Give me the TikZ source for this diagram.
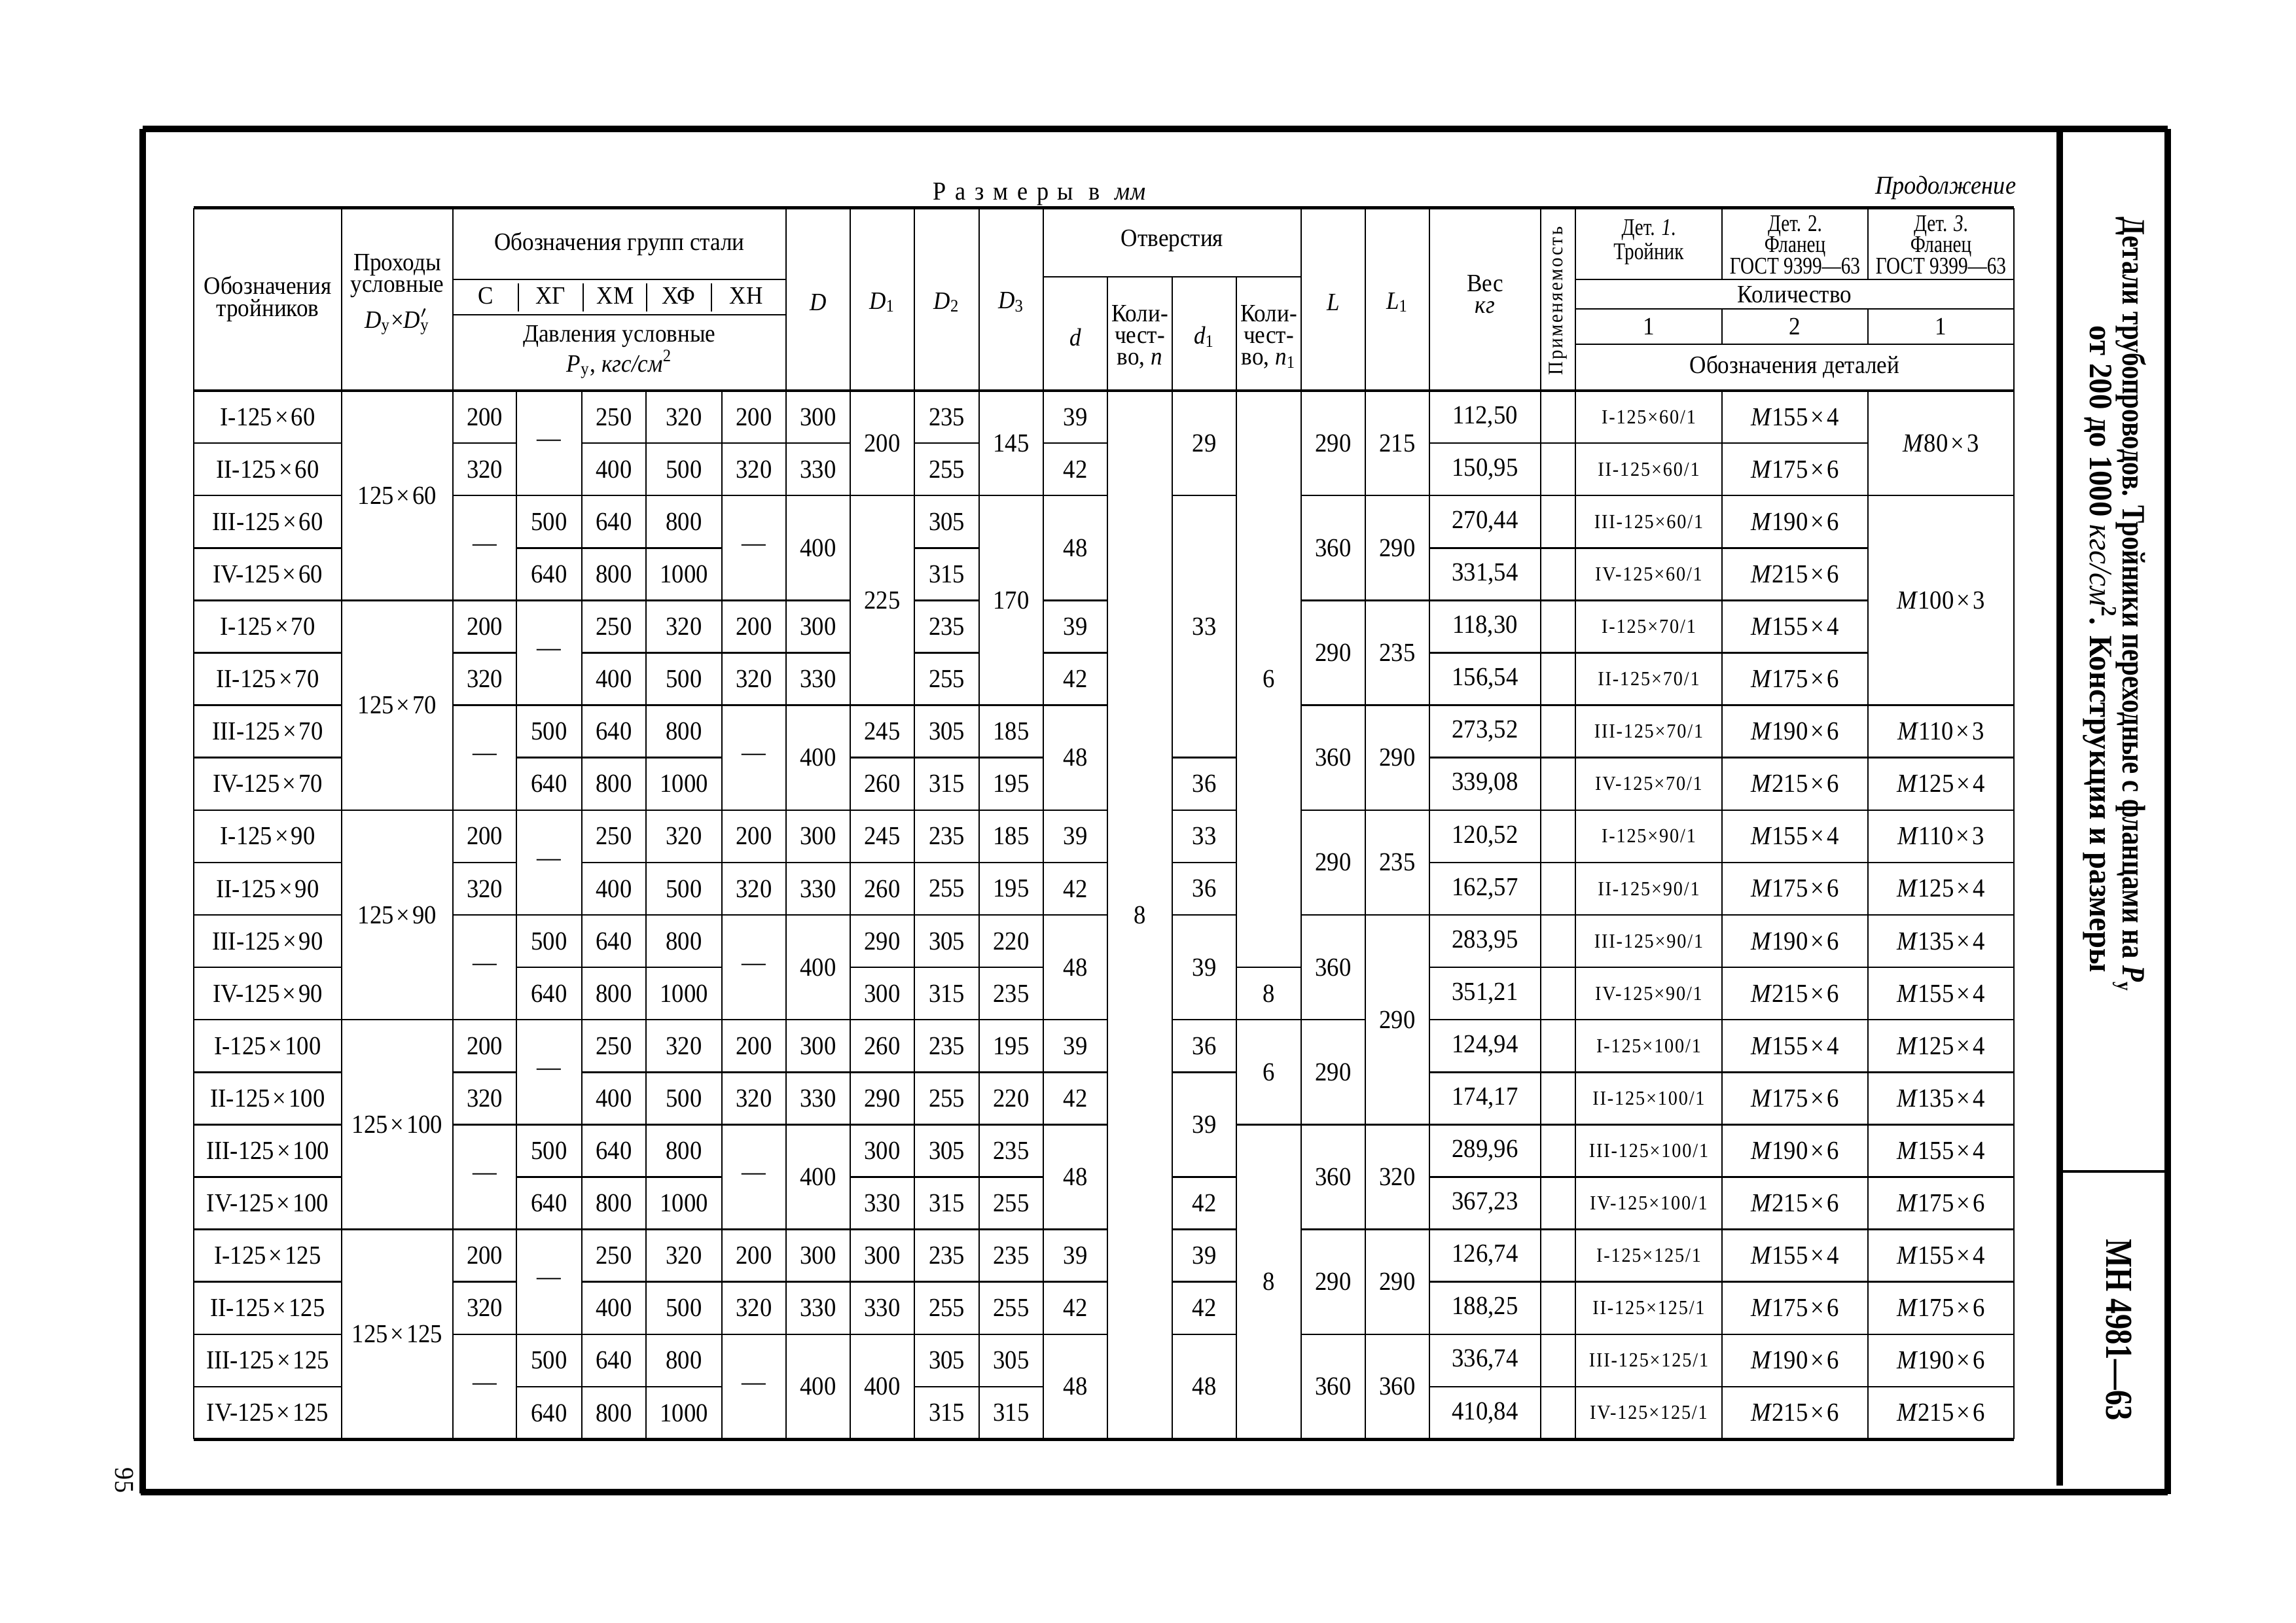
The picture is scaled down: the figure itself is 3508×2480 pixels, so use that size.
\documentclass[tikz,border=0pt]{standalone}
\usepackage{fontspec}
\setmainfont{Liberation Serif}[FakeStretch=0.92]
\newfontfamily\tfa{Liberation Serif}[FakeStretch=0.82]
\newfontfamily\tfb{Liberation Serif}[FakeStretch=0.94]
\newfontfamily\tfm{Liberation Serif}[FakeStretch=0.8]
\newfontfamily\hdc{Liberation Serif}[FakeStretch=0.8]
\newcounter{cn}
\newcommand\tcell[6][]{\stepcounter{cn}\edef\tmpnode{\noexpand\node[cellt,\unexpanded{#1}] (c\number\value{cn})}\tmpnode at ({((#2)+(#3))/2},{597+80.1*((#4)+(#5))/2}) {#6};}
\newcommand\hseg[3]{\draw[rule] (#1,{597+80.1*(#3)}) -- (#2,{597+80.1*(#3)});}
\newcommand\X{\kern0.1em×\kern0.1em}
\def\xA{296}\def\xB{522}\def\xC{692}\def\xD{789}\def\xE{889}\def\xF{987}
\def\xG{1103}\def\xH{1201}\def\xI{1299}\def\xJ{1397}\def\xK{1496}\def\xL{1594}
\def\xM{1692}\def\xN{1791}\def\xO{1889}\def\xP{1988}\def\xQ{2086}\def\xR{2184}
\def\xS{2354}\def\xT{2407}\def\xU{2631}\def\xV{2854}\def\xW{3077}
\begin{document}
\begin{tikzpicture}[x=0.084667mm,y=-0.084667mm,
  rule/.style={line width=0.6pt},
  heavy/.style={line width=1.2pt},
  framel/.style={line width=2.2pt},
  cellt/.style={inner sep=0pt,font=\fontsize{9.6}{10}\selectfont},
  small/.style={font=\fontsize{7.4}{8}\selectfont\addfontfeature{LetterSpace=6}},
  hd/.style={inner sep=0pt,align=center,font=\fontsize{9.2}{8}\selectfont},
  hdn/.style={inner sep=0pt,align=center,font=\hdc\fontsize{8.8}{7.8}\selectfont}]
\useasboundingbox (0,0) rectangle (3508,2480);
\fill[white] (0,0) rectangle (3508,2480);
% ---------- page frame ----------
\draw[framel] (218,197) -- (3312,197);
\draw[framel] (218,197) -- (218,2282);
\draw[framel] (215,2280) -- (3312,2280);
\draw[framel] (3147,197) -- (3147,2270);
\draw[framel] (3312,197) -- (3312,2283);
\draw[line width=1pt] (3147,1790) -- (3312,1790);
\node[rotate=-90,anchor=base west,inner sep=0pt,font=\tfa\bfseries\fontsize{12}{14}\selectfont] (title1) at (3243,331) {Детали трубопроводов. Тройники переходные с фланцами на \textit{P}\textsubscript{у}};
\node[rotate=-90,anchor=base west,inner sep=0pt,font=\tfb\bfseries\fontsize{12}{14}\selectfont] (title2) at (3193,497) {от 200 до 1000 {\mdseries\itshape кгс/см}\textsuperscript{2}. Конструкция и размеры};
\node[rotate=-90,anchor=base,inner sep=0pt,font=\tfm\bfseries\fontsize{14}{16}\selectfont] (mn) at (3218,2032) {МН 4981—63};
\node[rotate=-90,inner sep=0pt,font=\fontsize{10}{12}\selectfont] (pg) at (190,2262) {95};
% ---------- texts above table ----------
\node[anchor=west,inner sep=0pt,font=\fontsize{9.5}{10}\selectfont] (sizes) at (1425,297) {{\addfontfeature{LetterSpace=35}Размеры в}\hspace{2mm}\textit{мм}};
\node[anchor=east,inner sep=0pt,font=\fontsize{9.5}{10}\selectfont] (cont) at (3081,287) {\textit{Продолжение}};
% ---------- header rules ----------
\draw[heavy] (\xA,318) -- (\xW,318);
\draw[heavy] (\xA,597) -- (\xW,597);
\draw[heavy] (\xA,2199) -- (\xW,2199);
\foreach \x in {\xA,\xB,\xC,\xH,\xI,\xJ,\xK,\xL,\xP,\xQ,\xR,\xS,\xT,\xW}{\draw[rule] (\x,318) -- (\x,597);}
\foreach \x in {\xM,\xN,\xO}{\draw[rule] (\x,423) -- (\x,597);}
\foreach \x in {\xU,\xV}{\draw[rule] (\x,318) -- (\x,427);\draw[rule] (\x,472) -- (\x,526);}
\foreach \x in {792,891,988,1087}{\draw[rule] (\x,433) -- (\x,476);}
\draw[rule] (\xC,427) -- (\xH,427);
\draw[rule] (\xC,481) -- (\xH,481);
\draw[rule] (\xL,423) -- (\xP,423);
\draw[rule] (\xT,427) -- (\xW,427);
\draw[rule] (\xT,472) -- (\xW,472);
\draw[rule] (\xT,526) -- (\xW,526);
% ---------- header texts ----------
\node[hd] (hName) at ({(\xA+\xB)/2},457) {Обозначения\\тройников};
\node[hd] (hPass) at ({(\xB+\xC)/2},450) {Проходы\\условные\\[3pt]\textit{D}\textsubscript{у}×\textit{D}\rlap{\textsuperscript{$\prime$}}\textsubscript{у}};
\node[hd] (hGroups) at ({(\xC+\xH)/2},373) {Обозначения групп стали};
\node[hd] (gC) at (742,452) {С};
\node[hd] (gXG) at (841,452) {ХГ};
\node[hd] (gXM) at (940,452) {ХМ};
\node[hd] (gXF) at (1037,452) {ХФ};
\node[hd] (gXN) at (1140,452) {ХН};
\node[hd] (hPress) at ({(\xC+\xH)/2},538) {Давления условные\\\textit{P}\textsubscript{у}, \textit{кгс/см}\textsuperscript{2}};
\node[hd] (hD) at ({(\xH+\xI)/2},462) {\textit{D}};
\node[hd] (hD1) at ({(\xI+\xJ)/2},462) {\textit{D}\textsubscript{1}};
\node[hd] (hD2) at ({(\xJ+\xK)/2},462) {\textit{D}\textsubscript{2}};
\node[hd] (hD3) at ({(\xK+\xL)/2},462) {\textit{D}\textsubscript{3}};
\node[hd] (hHoles) at ({(\xL+\xP)/2},368) {Отверстия};
\node[hd] (hd) at ({(\xL+\xM)/2},515) {\textit{d}};
\node[hd] (hn) at ({(\xM+\xN)/2},515) {Коли-\\чест-\\во, \textit{n}};
\node[hd] (hd1) at ({(\xN+\xO)/2},515) {\textit{d}\textsubscript{1}};
\node[hd] (hn1) at ({(\xO+\xP)/2},515) {Коли-\\чест-\\во, \textit{n}\textsubscript{1}};
\node[hd] (hL) at ({(\xP+\xQ)/2},462) {\textit{L}};
\node[hd] (hL1) at ({(\xQ+\xR)/2},462) {\textit{L}\textsubscript{1}};
\node[hd] (hW) at ({(\xR+\xS)/2},450) {Вес\\\textit{кг}};
\node[hd,rotate=90,font=\fontsize{7.6}{8}\selectfont\addfontfeature{LetterSpace=8}] (hUse) at ({(\xS+\xT)/2},460) {Применяемость};
\node[hdn] (hDet1) at ({(\xT+\xU)/2},370) {Дет. \textit{1}.\\Тройник};
\node[hdn] (hDet2) at ({(\xU+\xV)/2},374) {Дет. 2.\\Фланец\\ГОСТ 9399—63};
\node[hdn] (hDet3) at ({(\xV+\xW)/2},374) {Дет. \textit{3}.\\Фланец\\ГОСТ 9399—63};
\node[hd] (hQty) at ({(\xT+\xW)/2},450) {Количество};
\node[hd] (hQ1) at ({(\xT+\xU)/2},499) {1};
\node[hd] (hQ2) at ({(\xU+\xV)/2},499) {2};
\node[hd] (hQ3) at ({(\xV+\xW)/2},499) {1};
\node[hd] (hDes) at ({(\xT+\xW)/2},561) {Обозначения деталей};
% ---------- body vertical rules ----------
\foreach \x in {\xA,\xB,\xC,\xD,\xE,\xF,\xG,\xH,\xI,\xJ,\xK,\xL,\xM,\xN,\xO,\xP,\xQ,\xR,\xS,\xT,\xU,\xV,\xW}{\draw[rule] (\x,597) -- (\x,2199);}
% ---------- body horizontal rules ----------
\def\Clist{1,2,4,5,6,8,9,10,12,13,14,16,17,18}
\foreach \k in {1,...,19}{\hseg{\xA}{\xB}{\k}\hseg{\xE}{\xG}{\k}\hseg{\xJ}{\xK}{\k}\hseg{\xR}{\xV}{\k}}
\foreach \k in {4,8,12,16}{\hseg{\xB}{\xC}{\k}}
\foreach \k in \Clist{\hseg{\xC}{\xD}{\k}\hseg{\xG}{\xI}{\k}\hseg{\xL}{\xM}{\k}}
\foreach \k in {2,3,4,6,7,8,10,11,12,14,15,16,18,19}{\hseg{\xD}{\xE}{\k}}
\foreach \k in {2,6,7,...,18}{\hseg{\xI}{\xJ}{\k}}
\foreach \k in {2,6,7,...,19}{\hseg{\xK}{\xL}{\k}\hseg{\xV}{\xW}{\k}}
\foreach \k in {2,7,8,9,10,12,13,15,16,17,18}{\hseg{\xN}{\xO}{\k}}
\foreach \k in {11,12,14}{\hseg{\xO}{\xP}{\k}}
\foreach \k in {2,4,...,18}{\hseg{\xP}{\xQ}{\k}}
\foreach \k in {2,4,6,8,10,14,16,18}{\hseg{\xQ}{\xR}{\k}}
% ---------- body cells ----------
\foreach \s [count=\g from 0] in {60,70,90,100,125}{
  \foreach \rn [count=\i from 0] in {I,II,III,IV}{
    \pgfmathtruncatemacro\rr{4*\g+\i}
    \tcell{\xA}{\xB}{\rr}{\rr+1}{\rn-125\X\s}
    \tcell[small]{\xT}{\xU}{\rr}{\rr+1}{\rn-125×\s/1}
  }
  \pgfmathtruncatemacro\gb{4*\g}
  \tcell{\xB}{\xC}{\gb}{\gb+4}{125\X\s}
  \tcell{\xC}{\xD}{\gb}{\gb+1}{200}
  \tcell{\xC}{\xD}{\gb+1}{\gb+2}{320}
  \tcell{\xC}{\xD}{\gb+2}{\gb+4}{—}
  \tcell{\xD}{\xE}{\gb}{\gb+2}{—}
  \tcell{\xD}{\xE}{\gb+2}{\gb+3}{500}
  \tcell{\xD}{\xE}{\gb+3}{\gb+4}{640}
  \tcell{\xE}{\xF}{\gb}{\gb+1}{250}
  \tcell{\xE}{\xF}{\gb+1}{\gb+2}{400}
  \tcell{\xE}{\xF}{\gb+2}{\gb+3}{640}
  \tcell{\xE}{\xF}{\gb+3}{\gb+4}{800}
  \tcell{\xF}{\xG}{\gb}{\gb+1}{320}
  \tcell{\xF}{\xG}{\gb+1}{\gb+2}{500}
  \tcell{\xF}{\xG}{\gb+2}{\gb+3}{800}
  \tcell{\xF}{\xG}{\gb+3}{\gb+4}{1000}
  \tcell{\xG}{\xH}{\gb}{\gb+1}{200}
  \tcell{\xG}{\xH}{\gb+1}{\gb+2}{320}
  \tcell{\xG}{\xH}{\gb+2}{\gb+4}{—}
  \tcell{\xH}{\xI}{\gb}{\gb+1}{300}
  \tcell{\xH}{\xI}{\gb+1}{\gb+2}{330}
  \tcell{\xH}{\xI}{\gb+2}{\gb+4}{400}
  \tcell{\xJ}{\xK}{\gb}{\gb+1}{235}
  \tcell{\xJ}{\xK}{\gb+1}{\gb+2}{255}
  \tcell{\xJ}{\xK}{\gb+2}{\gb+3}{305}
  \tcell{\xJ}{\xK}{\gb+3}{\gb+4}{315}
  \tcell{\xL}{\xM}{\gb}{\gb+1}{39}
  \tcell{\xL}{\xM}{\gb+1}{\gb+2}{42}
  \tcell{\xL}{\xM}{\gb+2}{\gb+4}{48}
  \tcell{\xU}{\xV}{\gb}{\gb+1}{\textit{M}155\X4}
  \tcell{\xU}{\xV}{\gb+1}{\gb+2}{\textit{M}175\X6}
  \tcell{\xU}{\xV}{\gb+2}{\gb+3}{\textit{M}190\X6}
  \tcell{\xU}{\xV}{\gb+3}{\gb+4}{\textit{M}215\X6}
}
\foreach \ka/\kb/\tx in {0/2/200,2/6/225,6/7/245,7/8/260,8/9/245,9/10/260,10/11/290,11/12/300,12/13/260,13/14/290,14/15/300,15/16/330,16/17/300,17/18/330,18/20/400}{\tcell{\xI}{\xJ}{\ka}{\kb}{\tx}}
\foreach \ka/\kb/\tx in {0/2/145,2/6/170,6/7/185,7/8/195,8/9/185,9/10/195,10/11/220,11/12/235,12/13/195,13/14/220,14/15/235,15/16/255,16/17/235,17/18/255,18/19/305,19/20/315}{\tcell{\xK}{\xL}{\ka}{\kb}{\tx}}
\tcell{\xM}{\xN}{0}{20}{8}
\foreach \ka/\kb/\tx in {0/2/29,2/7/33,7/8/36,8/9/33,9/10/36,10/12/39,12/13/36,13/15/39,15/16/42,16/17/39,17/18/42,18/20/48}{\tcell{\xN}{\xO}{\ka}{\kb}{\tx}}
\foreach \ka/\kb/\tx in {0/11/6,11/12/8,12/14/6,14/20/8}{\tcell{\xO}{\xP}{\ka}{\kb}{\tx}}
\foreach \ka/\kb/\tx in {0/2/290,2/4/360,4/6/290,6/8/360,8/10/290,10/12/360,12/14/290,14/16/360,16/18/290,18/20/360}{\tcell{\xP}{\xQ}{\ka}{\kb}{\tx}}
\foreach \ka/\kb/\tx in {0/2/215,2/4/290,4/6/235,6/8/290,8/10/235,10/14/290,14/16/320,16/18/290,18/20/360}{\tcell{\xQ}{\xR}{\ka}{\kb}{\tx}}
\foreach \v [count=\i from 0] in {{112,50},{150,95},{270,44},{331,54},{118,30},{156,54},{273,52},{339,08},{120,52},{162,57},{283,95},{351,21},{124,94},{174,17},{289,96},{367,23},{126,74},{188,25},{336,74},{410,84}}{\tcell{\xR}{\xS}{\i}{\i+1}{\v}}
\foreach \ka/\kb/\ta/\tb in {0/2/80/3,2/6/100/3,6/7/110/3,7/8/125/4,8/9/110/3,9/10/125/4,10/11/135/4,11/12/155/4,12/13/125/4,13/14/135/4,14/15/155/4,15/16/175/6,16/17/155/4,17/18/175/6,18/19/190/6,19/20/215/6}{\tcell{\xV}{\xW}{\ka}{\kb}{\textit{M}\ta\X\tb}}
\end{tikzpicture}
\end{document}
